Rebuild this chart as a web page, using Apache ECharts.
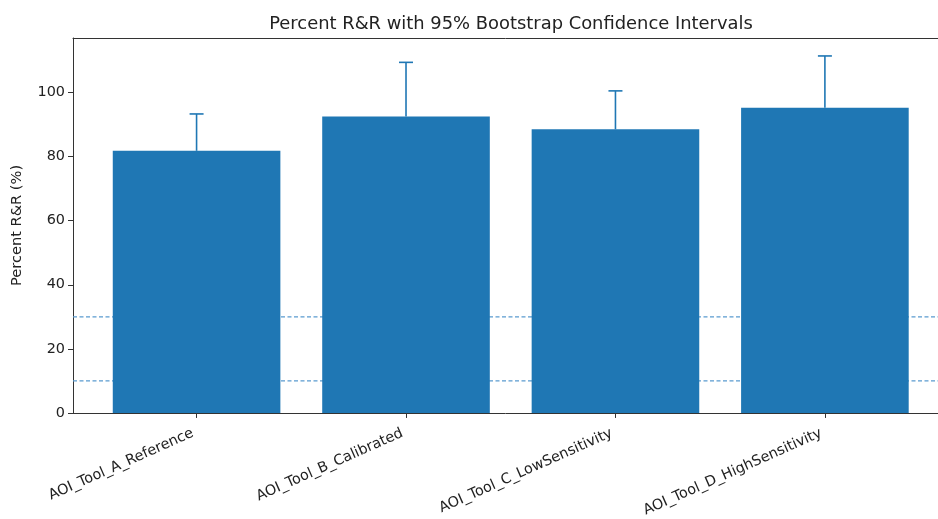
<!DOCTYPE html>
<html lang="en">
<head>
    <meta charset="UTF-8">
    <title>Percent R&R</title>
    <script src="https://cdn.jsdelivr.net/npm/echarts@6/dist/echarts.min.js"></script>
    <style>
        html, body { margin: 0; padding: 0; background: #fff; overflow: hidden; }
        #main { width: 938px; height: 519px; }
    </style>
</head>
<body>
<div id="main"></div>
<script type="text/javascript">
    var tools = ['AOI_Tool_A_Reference', 'AOI_Tool_B_Calibrated', 'AOI_Tool_C_LowSensitivity', 'AOI_Tool_D_HighSensitivity'];
    var percentRR = [81.8, 92.5, 88.5, 95.2];
    var ciUpper = [93.3, 109.4, 100.5, 111.4];
    var refLines = [10, 30];
    var yTicks = [0, 20, 40, 60, 80, 100];

    var blue = '#1f77b4';
    var font = 'DejaVu Sans';
    var positions = tools.map(function (t, i) { return i; });

    var myChart = echarts.init(document.getElementById('main'));

    // the picture is cut at the right, so the x range ends before the matplotlib xlim
    var xMin = -0.59, xMax = 3.54;

    var option = {
        animation: false,
        title: {
            text: 'Percent R&R with 95% Bootstrap Confidence Intervals',
            left: 506,
            textAlign: 'center',
            top: 10,
            textStyle: { fontFamily: font, fontSize: 17.9, fontWeight: 'normal', color: '#222' }
        },
        grid: { left: 73, top: 38, right: 0, bottom: 106 },
        xAxis: [{
            type: 'value',
            min: xMin,
            max: xMax,
            splitLine: { show: false },
            axisLine: { show: true, onZero: false, lineStyle: { color: '#333', width: 1 } },
            axisTick: { show: true, length: 5, customValues: positions, lineStyle: { color: '#333' } },
            axisLabel: {
                customValues: positions,
                rotate: 24,
                margin: 18,
                padding: [0, 4, 0, 0],
                fontFamily: font,
                fontSize: 14.4,
                color: '#222',
                formatter: function (v) { return tools[Math.round(v)]; }
            }
        }, {
            type: 'value',
            position: 'top',
            min: xMin,
            max: xMax,
            splitLine: { show: false },
            axisLine: { show: true, onZero: false, lineStyle: { color: '#333', width: 1 } },
            axisTick: { show: false },
            axisLabel: { show: false }
        }],
        yAxis: {
            type: 'value',
            min: 0,
            max: 117,
            name: 'Percent R&R (%)',
            nameLocation: 'middle',
            nameGap: 48,
            nameTextStyle: { fontFamily: font, fontSize: 14.6, color: '#222' },
            splitLine: { show: false },
            axisLine: { show: true, onZero: false, lineStyle: { color: '#333', width: 1 } },
            axisTick: { show: true, length: 5, customValues: yTicks, lineStyle: { color: '#333' } },
            axisLabel: {
                customValues: yTicks,
                fontFamily: font,
                fontSize: 14.4,
                color: '#222',
                margin: 8
            }
        },
        series: [
            {
                type: 'custom',
                z: 1,
                data: refLines,
                renderItem: function (params, api) {
                    var y = api.coord([0, api.value(0)])[1];
                    var cs = params.coordSys;
                    return {
                        type: 'line',
                        shape: { x1: cs.x, y1: y, x2: cs.x + cs.width, y2: y },
                        style: { stroke: '#5a9bd0', lineWidth: 1.2, lineDash: [4, 2.5] }
                    };
                },
                encode: { y: 0 }
            },
            {
                type: 'bar',
                z: 2,
                barWidth: 167.6,
                itemStyle: { color: blue },
                data: positions.map(function (x, i) { return [x, percentRR[i]]; })
            },
            {
                type: 'custom',
                z: 3,
                data: positions.map(function (x, i) { return [x, percentRR[i], ciUpper[i]]; }),
                encode: { x: 0, y: [1, 2] },
                renderItem: function (params, api) {
                    var base = api.coord([api.value(0), api.value(1)]);
                    var top = api.coord([api.value(0), api.value(2)]);
                    var style = { stroke: blue, lineWidth: 1.6 };
                    return {
                        type: 'group',
                        children: [
                            { type: 'line', shape: { x1: top[0], y1: base[1], x2: top[0], y2: top[1] }, style: style },
                            { type: 'line', shape: { x1: top[0] - 7, y1: top[1], x2: top[0] + 7, y2: top[1] }, style: style }
                        ]
                    };
                }
            }
        ]
    };

    myChart.setOption(option);
</script>
</body>
</html>
